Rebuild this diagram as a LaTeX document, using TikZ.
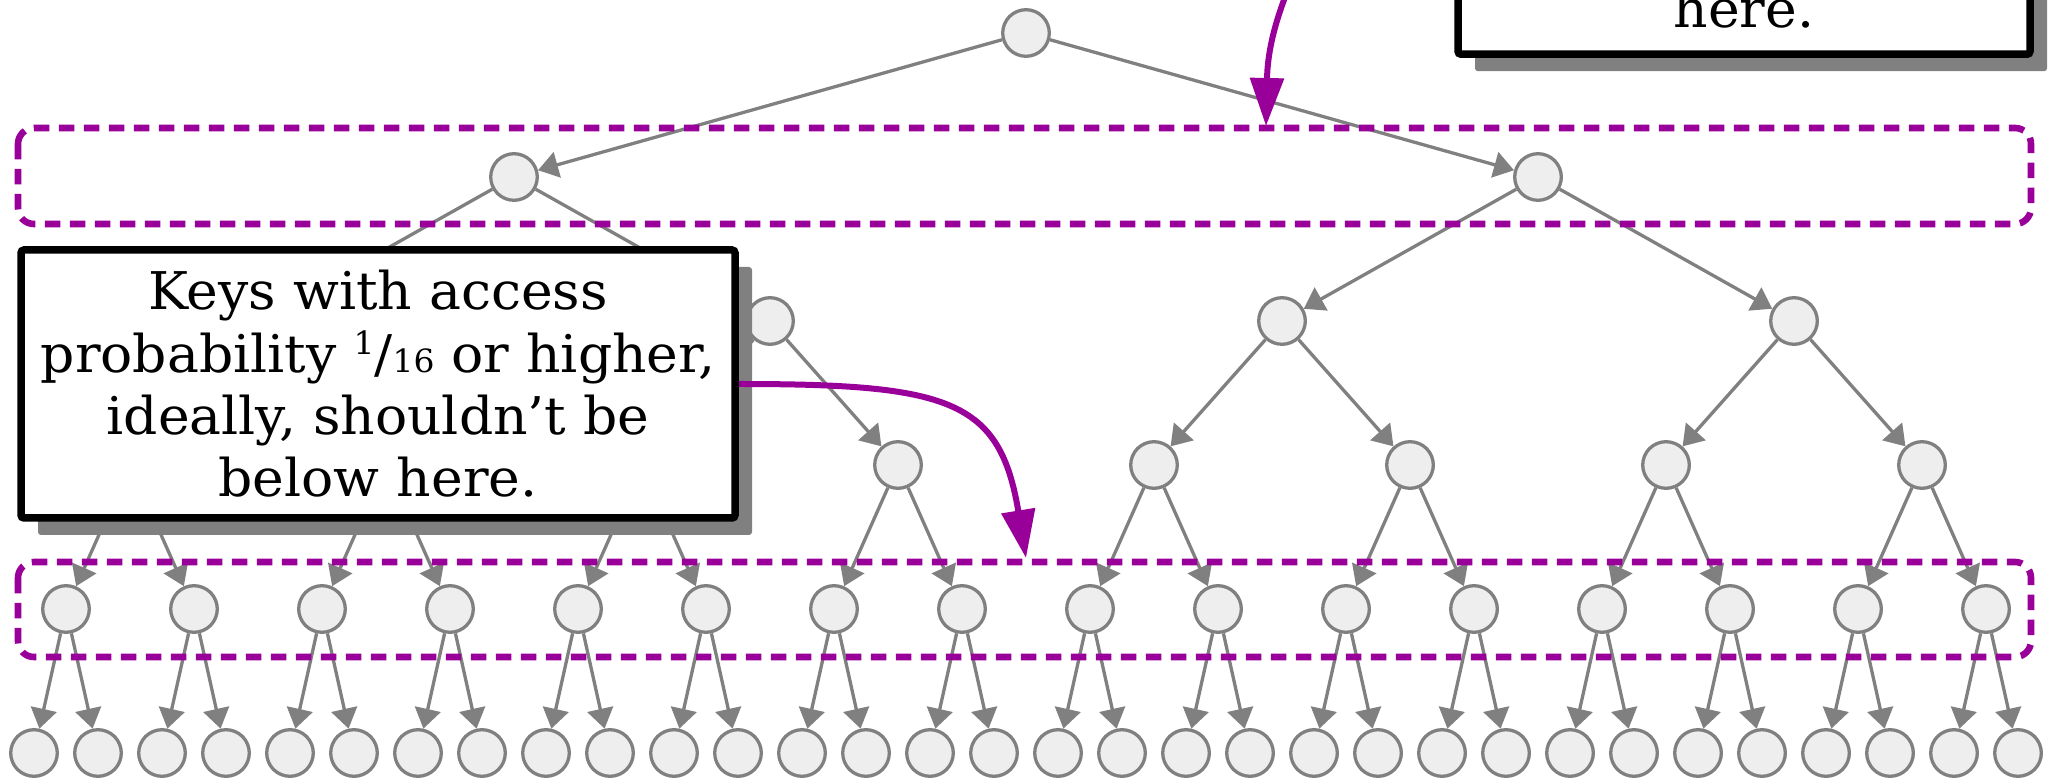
\documentclass[tikz,border=0pt]{standalone}
\usepackage{fontspec}
\setmainfont{DejaVu Serif}[FakeStretch=1.03]
\usepackage{tikz}
\usetikzlibrary{arrows.meta,shadows}
\definecolor{bandpurple}{RGB}{153,0,153}
\definecolor{keyfill}{RGB}{238,238,238}

\begin{document}
\begin{tikzpicture}[x=0.5pt,y=-0.5pt,
			keynode/.style={circle, draw=gray, fill=keyfill, line width=1.65pt, minimum size=23.3pt, inner sep=0pt},
			link/.style={draw=gray, line width=1.65pt, -{Triangle[length=10pt,width=13pt]}},
			band/.style={draw=bandpurple, line width=3.3pt, dash pattern=on 7.75pt off 4.75pt, rounded corners=8pt},
			notebox/.style={draw=black, fill=white, line width=3.75pt, rounded corners=1.5pt, inner sep=8pt, align=center,
				font=\fontsize{26}{31.2}\selectfont,
				drop shadow={shadow xshift=8.5pt, shadow yshift=-8.5pt, fill=black!50, opacity=1}},
			pointer/.style={draw=bandpurple, line width=3pt, -{Triangle[length=24pt,width=16.5pt]}}
		]
		\useasboundingbox (0,0) rectangle (2049,779);

		\node[keynode] (k1) at (1026,33) {};

		\node[keynode] (k2) at (514,177) {};
		\node[keynode] (k3) at (1538,177) {};

		\node[keynode] (k4) at (258,321) {};
		\node[keynode] (k5) at (770,321) {};
		\node[keynode] (k6) at (1282,321) {};
		\node[keynode] (k7) at (1794,321) {};

		\node[keynode] (k8) at (130,465) {};
		\node[keynode] (k9) at (386,465) {};
		\node[keynode] (k10) at (642,465) {};
		\node[keynode] (k11) at (898,465) {};
		\node[keynode] (k12) at (1154,465) {};
		\node[keynode] (k13) at (1410,465) {};
		\node[keynode] (k14) at (1666,465) {};
		\node[keynode] (k15) at (1922,465) {};

		\node[keynode] (k16) at (66,609) {};
		\node[keynode] (k17) at (194,609) {};
		\node[keynode] (k18) at (322,609) {};
		\node[keynode] (k19) at (450,609) {};
		\node[keynode] (k20) at (578,609) {};
		\node[keynode] (k21) at (706,609) {};
		\node[keynode] (k22) at (834,609) {};
		\node[keynode] (k23) at (962,609) {};
		\node[keynode] (k24) at (1090,609) {};
		\node[keynode] (k25) at (1218,609) {};
		\node[keynode] (k26) at (1346,609) {};
		\node[keynode] (k27) at (1474,609) {};
		\node[keynode] (k28) at (1602,609) {};
		\node[keynode] (k29) at (1730,609) {};
		\node[keynode] (k30) at (1858,609) {};
		\node[keynode] (k31) at (1986,609) {};

		\node[keynode] (k32) at (34,753) {};
		\node[keynode] (k33) at (98,753) {};
		\node[keynode] (k34) at (162,753) {};
		\node[keynode] (k35) at (226,753) {};
		\node[keynode] (k36) at (290,753) {};
		\node[keynode] (k37) at (354,753) {};
		\node[keynode] (k38) at (418,753) {};
		\node[keynode] (k39) at (482,753) {};
		\node[keynode] (k40) at (546,753) {};
		\node[keynode] (k41) at (610,753) {};
		\node[keynode] (k42) at (674,753) {};
		\node[keynode] (k43) at (738,753) {};
		\node[keynode] (k44) at (802,753) {};
		\node[keynode] (k45) at (866,753) {};
		\node[keynode] (k46) at (930,753) {};
		\node[keynode] (k47) at (994,753) {};
		\node[keynode] (k48) at (1058,753) {};
		\node[keynode] (k49) at (1122,753) {};
		\node[keynode] (k50) at (1186,753) {};
		\node[keynode] (k51) at (1250,753) {};
		\node[keynode] (k52) at (1314,753) {};
		\node[keynode] (k53) at (1378,753) {};
		\node[keynode] (k54) at (1442,753) {};
		\node[keynode] (k55) at (1506,753) {};
		\node[keynode] (k56) at (1570,753) {};
		\node[keynode] (k57) at (1634,753) {};
		\node[keynode] (k58) at (1698,753) {};
		\node[keynode] (k59) at (1762,753) {};
		\node[keynode] (k60) at (1826,753) {};
		\node[keynode] (k61) at (1890,753) {};
		\node[keynode] (k62) at (1954,753) {};
		\node[keynode] (k63) at (2018,753) {};

		\path (k1) edge[link] (k2) edge[link] (k3);
		\path (k2) edge[link] (k4) edge[link] (k5);
		\path (k3) edge[link] (k6) edge[link] (k7);
		\path (k4) edge[link] (k8) edge[link] (k9);
		\path (k5) edge[link] (k10) edge[link] (k11);
		\path (k6) edge[link] (k12) edge[link] (k13);
		\path (k7) edge[link] (k14) edge[link] (k15);
		\path (k8) edge[link] (k16) edge[link] (k17);
		\path (k9) edge[link] (k18) edge[link] (k19);
		\path (k10) edge[link] (k20) edge[link] (k21);
		\path (k11) edge[link] (k22) edge[link] (k23);
		\path (k12) edge[link] (k24) edge[link] (k25);
		\path (k13) edge[link] (k26) edge[link] (k27);
		\path (k14) edge[link] (k28) edge[link] (k29);
		\path (k15) edge[link] (k30) edge[link] (k31);
		\path (k16) edge[link] (k32) edge[link] (k33);
		\path (k17) edge[link] (k34) edge[link] (k35);
		\path (k18) edge[link] (k36) edge[link] (k37);
		\path (k19) edge[link] (k38) edge[link] (k39);
		\path (k20) edge[link] (k40) edge[link] (k41);
		\path (k21) edge[link] (k42) edge[link] (k43);
		\path (k22) edge[link] (k44) edge[link] (k45);
		\path (k23) edge[link] (k46) edge[link] (k47);
		\path (k24) edge[link] (k48) edge[link] (k49);
		\path (k25) edge[link] (k50) edge[link] (k51);
		\path (k26) edge[link] (k52) edge[link] (k53);
		\path (k27) edge[link] (k54) edge[link] (k55);
		\path (k28) edge[link] (k56) edge[link] (k57);
		\path (k29) edge[link] (k58) edge[link] (k59);
		\path (k30) edge[link] (k60) edge[link] (k61);
		\path (k31) edge[link] (k62) edge[link] (k63);

		\draw[band] (18,128) rectangle (2031,224);
		\draw[band] (18,562) rectangle (2031,657);

		\node[notebox, minimum width=357pt, minimum height=134pt] (lownote) at (378,384)
			{Keys with access\\probability \raisebox{9pt}{\fontsize{16}{16}\selectfont 1}/{\fontsize{16}{16}\selectfont 16} or higher,\\ideally, shouldn’t be\\below here.};
		\node[notebox, anchor=south, minimum width=286pt, text height=60pt, text depth=5.15pt] (highnote) at (1744,58) {here.};

		\coordinate (hightip) at (1266,126);
		\coordinate (lowtip) at (1026,558);
		\coordinate (highstart) at (1320,-80);

		\draw[pointer] (highstart) .. controls (1290,-20) and (1268,30) .. (hightip);
		\draw[pointer] (lownote.east) .. controls (950,384) and (1000,400) .. (lowtip);
	\end{tikzpicture}
\end{document}
